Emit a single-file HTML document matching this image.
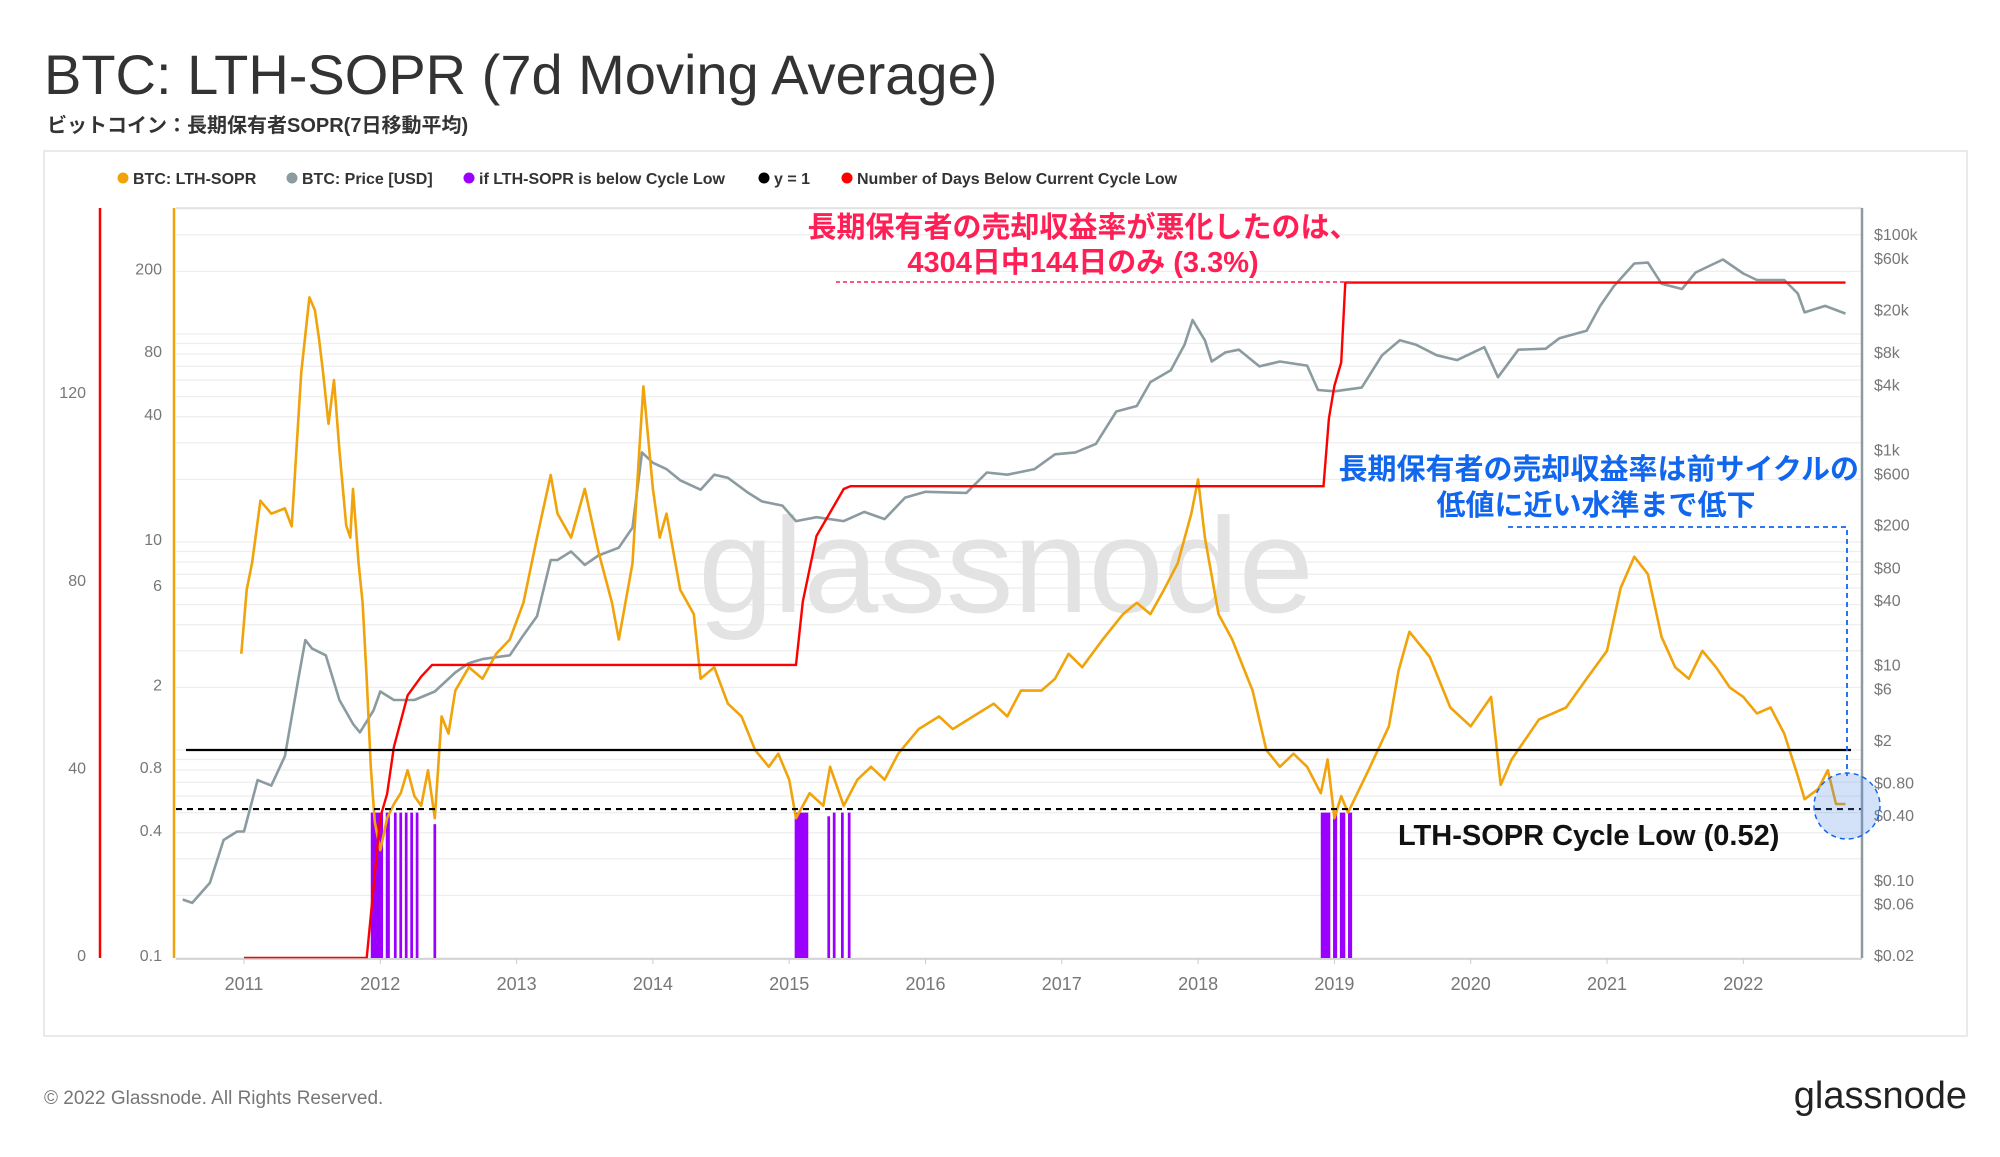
<!DOCTYPE html>
<html><head><meta charset="utf-8">
<style>
body{margin:0;background:#fff;width:2000px;height:1152px;overflow:hidden;font-family:"Liberation Sans","Noto Sans CJK JP",sans-serif;}
svg text{font-family:"Liberation Sans","Noto Sans CJK JP",sans-serif;}
</style></head>
<body>
<svg id="chart" width="2000" height="1152" xmlns="http://www.w3.org/2000/svg">
<text x="44" y="94" font-size="56" fill="#333">BTC: LTH-SOPR (7d Moving Average)</text>
<text x="47" y="132" font-size="20" font-weight="bold" fill="#333">ビットコイン：長期保有者SOPR(7日移動平均)</text>
<rect x="44" y="151" width="1923" height="885" fill="none" stroke="#e4e4e4" stroke-width="1.5"/>
<g id="legend" font-size="16" font-weight="bold" fill="#333">
<g><circle cx="123" cy="178" r="5.5" fill="#f0a30a"/><text x="133" y="184">BTC: LTH-SOPR</text></g>
<g><circle cx="292" cy="178" r="5.5" fill="#8c9ba0"/><text x="302" y="184">BTC: Price [USD]</text></g>
<g><circle cx="469" cy="178" r="5.5" fill="#9b00ff"/><text x="479" y="184">if LTH-SOPR is below Cycle Low</text></g>
<g><circle cx="764" cy="178" r="5.5" fill="#000"/><text x="774" y="184">y = 1</text></g>
<g><circle cx="847" cy="178" r="5.5" fill="#ff0000"/><text x="857" y="184">Number of Days Below Current Cycle Low</text></g>
</g>
<g id="grid"></g>
<text x="1006" y="612" font-size="135" fill="#e3e3e3" text-anchor="middle">glassnode</text>
<g id="marks"></g>
<g id="axes"></g>
<g id="annot">
<text x="1083" y="237" font-size="29" font-weight="bold" fill="#ff1f55" text-anchor="middle">長期保有者の売却収益率が悪化したのは、</text>
<text x="1083" y="272" font-size="29" font-weight="bold" fill="#ff1f55" text-anchor="middle">4304日中144日のみ (3.3%)</text>
<line x1="836" y1="282" x2="1354" y2="282" stroke="#ff1f55" stroke-width="1.5" stroke-dasharray="4,3"/>
<text x="1859" y="479" font-size="29" font-weight="bold" fill="#1166ee" text-anchor="end">長期保有者の売却収益率は前サイクルの</text>
<text x="1596" y="515" font-size="29" font-weight="bold" fill="#1166ee" text-anchor="middle">低値に近い水準まで低下</text>
<polyline points="1508,527 1847,527 1847,776" fill="none" stroke="#1166ee" stroke-width="1.8" stroke-dasharray="5,4"/>
<ellipse cx="1847" cy="806" rx="33" ry="33" fill="rgba(80,140,230,0.25)" stroke="#1166ee" stroke-width="1.5" stroke-dasharray="5,4"/>
<text x="1398" y="845" font-size="29" font-weight="bold" fill="#111">LTH-SOPR Cycle Low (0.52)</text>
</g>
<text x="44" y="1104" font-size="19" fill="#777">© 2022 Glassnode. All Rights Reserved.</text>
<text x="1967" y="1108" font-size="38" fill="#222" text-anchor="end">glassnode</text>
</svg>
<script>
const soprDates=[2010.98,2011.02,2011.06,2011.12,2011.2,2011.3,2011.35,2011.42,2011.48,2011.52,2011.55,2011.58,2011.62,2011.66,2011.7,2011.75,2011.78,2011.8,2011.84,2011.87,2011.9,2011.93,2011.96,2012.0,2012.05,2012.1,2012.15,2012.2,2012.25,2012.3,2012.35,2012.4,2012.45,2012.5,2012.55,2012.65,2012.75,2012.85,2012.95,2013.05,2013.15,2013.25,2013.3,2013.4,2013.5,2013.6,2013.7,2013.75,2013.85,2013.9,2013.93,2014.0,2014.05,2014.1,2014.2,2014.3,2014.35,2014.45,2014.55,2014.65,2014.75,2014.85,2014.92,2015.0,2015.05,2015.15,2015.25,2015.3,2015.4,2015.5,2015.6,2015.7,2015.8,2015.95,2016.1,2016.2,2016.35,2016.5,2016.6,2016.7,2016.85,2016.95,2017.05,2017.15,2017.3,2017.45,2017.55,2017.65,2017.75,2017.85,2017.95,2018.0,2018.05,2018.15,2018.25,2018.4,2018.5,2018.6,2018.7,2018.8,2018.9,2018.95,2019.0,2019.05,2019.1,2019.25,2019.4,2019.47,2019.55,2019.7,2019.85,2020.0,2020.15,2020.22,2020.3,2020.5,2020.7,2020.85,2021.0,2021.1,2021.2,2021.3,2021.4,2021.5,2021.6,2021.7,2021.8,2021.9,2022.0,2022.1,2022.2,2022.3,2022.4,2022.45,2022.55,2022.62,2022.68,2022.75];
const soprValues=[2.9,5.9,8,15.8,13.7,14.5,11.9,65,150,130,95,65,37,60,27.7,12,10.5,18,8,5.1,2.2,0.83,0.45,0.33,0.47,0.55,0.62,0.8,0.6,0.54,0.8,0.47,1.45,1.2,1.93,2.5,2.2,2.9,3.4,5.1,10.5,21,13.7,10.5,18,9,5.1,3.4,7.9,27.7,56,18,10.5,13.7,5.9,4.5,2.2,2.5,1.67,1.45,1,0.83,0.96,0.72,0.47,0.62,0.54,0.83,0.54,0.72,0.83,0.72,0.96,1.26,1.45,1.26,1.45,1.67,1.45,1.93,1.93,2.2,2.9,2.5,3.4,4.5,5.1,4.5,5.9,7.9,13.7,20,10.5,4.5,3.4,1.93,1,0.83,0.96,0.83,0.62,0.9,0.47,0.6,0.5,0.8,1.3,2.4,3.7,2.8,1.6,1.3,1.8,0.68,0.9,1.4,1.6,2.2,3,6,8.5,7,3.5,2.5,2.2,3,2.5,2,1.8,1.5,1.6,1.2,0.75,0.58,0.65,0.8,0.55,0.55];
const priceDates=[2010.55,2010.62,2010.75,2010.85,2010.95,2011.0,2011.1,2011.2,2011.3,2011.4,2011.45,2011.5,2011.6,2011.7,2011.8,2011.85,2011.95,2012.0,2012.1,2012.25,2012.4,2012.55,2012.65,2012.75,2012.95,2013.05,2013.15,2013.25,2013.3,2013.4,2013.5,2013.6,2013.75,2013.85,2013.92,2014.0,2014.1,2014.2,2014.35,2014.45,2014.55,2014.7,2014.8,2014.95,2015.05,2015.2,2015.4,2015.55,2015.7,2015.85,2016.0,2016.3,2016.45,2016.6,2016.8,2016.95,2017.1,2017.25,2017.4,2017.55,2017.65,2017.8,2017.9,2017.96,2018.05,2018.1,2018.2,2018.3,2018.45,2018.6,2018.8,2018.88,2019.0,2019.2,2019.35,2019.48,2019.6,2019.75,2019.9,2020.1,2020.2,2020.35,2020.55,2020.65,2020.85,2020.95,2021.05,2021.2,2021.3,2021.4,2021.55,2021.65,2021.85,2022.0,2022.1,2022.3,2022.4,2022.45,2022.6,2022.75];
const priceValues=[0.07,0.065,0.1,0.25,0.3,0.3,0.9,0.8,1.5,8,18,15,13,5,3,2.5,4,6,5,5,6,9,11,12,13,20,30,100,100,120,90,110,130,200,1000,800,700,550,450,620,580,420,350,320,230,250,230,280,240,380,430,420,650,620,700,960,1000,1200,2400,2700,4500,5800,10000,17000,11000,7000,8500,9000,6300,7000,6400,3800,3700,4000,8000,11000,10000,8000,7200,9500,5000,9000,9200,11500,13500,23000,35000,57000,58000,37000,33000,47000,62000,46000,40000,40000,30000,20000,23000,19500];
const daysDates=[2011.0,2011.9,2011.95,2012.0,2012.05,2012.1,2012.2,2012.3,2012.38,2015.05,2015.1,2015.2,2015.3,2015.4,2015.45,2018.92,2018.96,2019.0,2019.05,2019.08,2022.75];
const daysValues=[0,0,15,30,35,45,56,60,62.5,62.5,76,90,95,100,100.6,100.6,115,122,127,144,144];
const barStarts=[2011.93,2012.04,2012.1,2012.14,2012.18,2012.22,2012.26,2012.39,2015.04,2015.28,2015.32,2015.38,2015.43,2018.9,2018.99,2019.04,2019.1];
const barEnds=[2012.02,2012.07,2012.12,2012.16,2012.2,2012.24,2012.28,2012.41,2015.14,2015.3,2015.34,2015.4,2015.45,2018.97,2019.02,2019.08,2019.13];
const barTops=[0.5,0.5,0.5,0.5,0.5,0.5,0.5,0.44,0.5,0.48,0.5,0.5,0.5,0.5,0.5,0.5,0.5];
const soprTicks=[0.1,0.4,0.8,2,6,10,40,80,200];
const priceTicks=[0.02,0.06,0.1,0.4,0.8,2,6,10,40,80,200,600,1000,4000,8000,20000,60000,100000];
const priceTickLabels=["$0.02","$0.06","$0.10","$0.40","$0.80","$2","$6","$10","$40","$80","$200","$600","$1k","$4k","$8k","$20k","$60k","$100k"];
const daysTicks=[0,40,80,120];
const yearTicks=[2011,2012,2013,2014,2015,2016,2017,2018,2019,2020,2021,2022];
const cycleLow=0.52;

const NS="http://www.w3.org/2000/svg";
const L=176,R=1862,T=208,B=958;
const x=d=>244+(d-2011)*136.3;
const yS=v=>B-208*(Math.log10(v)+1);
const yP=v=>B-107.6*Math.log10(v/0.02);
const yD=v=>B-4.69*v;
function mk(tag,attrs,parent){const e=document.createElementNS(NS,tag);for(const k in attrs)e.setAttribute(k,attrs[k]);parent.appendChild(e);return e;}
const grid=document.getElementById('grid'),marks=document.getElementById('marks'),axes=document.getElementById('axes');
// grid
for(let dec=-1;dec<3;dec++){for(let m=1;m<10;m++){const v=m*Math.pow(10,dec);const yy=yS(v);if(yy<T)continue;
 const g=mk('line',{x1:L,x2:R,y1:yy,y2:yy,stroke:'#eeeeee','stroke-width':1.2},grid);
 
 }}
const tb=mk('line',{x1:L,x2:R,y1:T,y2:T,stroke:'#dddddd','stroke-width':1.5},grid);


// bars
barStarts.forEach((s,i)=>{const r=mk('rect',{x:x(s),y:yS(barTops[i]),width:Math.max(2,x(barEnds[i])-x(s)),height:B-yS(barTops[i]),fill:'#9b00ff'},marks);
 
 });
// price
const pp=mk('polyline',{points:priceDates.map((d,i)=>x(d).toFixed(1)+','+yP(priceValues[i]).toFixed(1)).join(' '),fill:'none',stroke:'#8c9ba0','stroke-width':2.6,'stroke-linejoin':'round'},marks);


// sopr
const sp=mk('polyline',{points:soprDates.map((d,i)=>x(d).toFixed(1)+','+yS(soprValues[i]).toFixed(1)).join(' '),fill:'none',stroke:'#f0a30a','stroke-width':2.6,'stroke-linejoin':'round'},marks);


// days step
let pts=[];daysDates.forEach((d,i)=>{pts.push(x(d).toFixed(1)+','+yD(daysValues[i]).toFixed(1));});
const dp=mk('polyline',{points:pts.join(' '),fill:'none',stroke:'#ff0000','stroke-width':2.4},marks);


// y=1 & cycle low
const y1=mk('line',{x1:186,x2:1851,y1:yS(1),y2:yS(1),stroke:'#000','stroke-width':2.2},marks);


const cl=mk('line',{x1:176,x2:1862,y1:yS(cycleLow),y2:yS(cycleLow),stroke:'#000','stroke-width':2.2,'stroke-dasharray':'6,5'},marks);


// axes lines
const ar=mk('line',{x1:100,x2:100,y1:T,y2:B,stroke:'#ff0000','stroke-width':2.5},axes);


const ao=mk('line',{x1:174,x2:174,y1:T,y2:B,stroke:'#f0a30a','stroke-width':2.5},axes);


const ag=mk('line',{x1:1862,x2:1862,y1:T,y2:B,stroke:'#8c9ba0','stroke-width':2.5},axes);


const ab=mk('line',{x1:L,x2:R,y1:B+1,y2:B+1,stroke:'#cccccc','stroke-width':1.5},axes);


function lbl(txt,xx,yy,anchor,name,size){const t=mk('text',{x:xx,y:yy,'text-anchor':anchor,'font-size':size||16,fill:'#777'},axes);t.textContent=txt;
 
 }
soprTicks.forEach(v=>lbl(String(v),162,yS(v)+3,'end','sopr-tick-label'));
daysTicks.forEach(v=>lbl(String(v),86,yD(v)+3,'end','days-tick-label'));
priceTicks.forEach((v,i)=>lbl(priceTickLabels[i],1874,yP(v)+3,'start','price-tick-label'));
yearTicks.forEach(yr=>{lbl(String(yr),x(yr),990,'middle','year-tick-label',18);
 const tk=mk('line',{x1:x(yr),x2:x(yr),y1:B,y2:B+6,stroke:'#ccc'},axes);
 
 });
</script>
</body></html>
